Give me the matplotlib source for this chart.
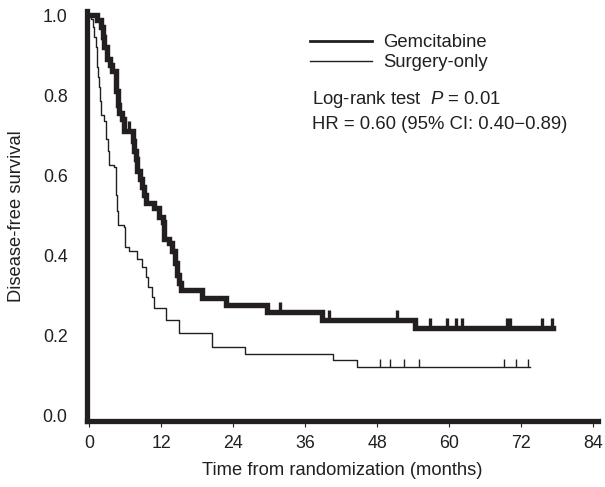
import numpy as np
import matplotlib
matplotlib.use("Agg")
import matplotlib.pyplot as plt

plt.rcParams['font.family'] = ['Liberation Sans', 'DejaVu Sans']
plt.rcParams['mathtext.fontset'] = 'custom'
plt.rcParams['mathtext.rm'] = 'Liberation Sans'
plt.rcParams['mathtext.it'] = 'Liberation Sans:italic'

INK = "#231f20"

# Gemcitabine: step times (months) and survival after each step
gem_t = [0, 1.3, 2.0, 2.2, 2.45, 3.0, 3.4, 3.8, 4.4, 4.5, 4.7, 5.0, 5.4, 5.8,
         7.2, 7.4, 7.7, 8.0, 8.4, 8.8, 9.1, 9.4, 10.8, 11.6, 12.2, 12.4, 12.5,
         13.3, 13.8, 14.3, 14.6, 14.9, 15.3, 18.8, 22.8, 29.6, 38.8, 54.3]
gem_s = [1.0, 0.988, 0.97, 0.945, 0.92, 0.89, 0.875, 0.86, 0.84, 0.81, 0.776, 0.755, 0.74, 0.71,
         0.685, 0.66, 0.64, 0.61, 0.59, 0.57, 0.55, 0.53, 0.517, 0.496, 0.483, 0.46, 0.44,
         0.43, 0.41, 0.38, 0.35, 0.33, 0.3125, 0.293, 0.275, 0.257, 0.2375, 0.217]
gem_end = 77.3
gem_cens = [6.6, 31.8, 39.9, 51.3, 56.8, 59.6, 61.1, 62.1, 69.6, 70.2, 75.4, 77.1]

# Surgery-only
sur_t = [0, 0.3, 0.6, 0.85, 1.05, 1.2, 1.35, 1.5, 1.65, 1.8, 1.95, 2.45, 2.7, 3.1, 3.3,
         4.1, 4.4, 4.5, 4.6, 4.7, 5.8, 6.0, 6.6, 8.0, 8.8, 9.4, 9.7, 10.5, 10.7, 12.7,
         14.9, 20.4, 26.0, 40.7, 44.6]
sur_s = [1.0, 0.99, 0.97, 0.945, 0.92, 0.895, 0.87, 0.845, 0.82, 0.785, 0.75, 0.735, 0.69, 0.66, 0.625,
         0.62, 0.59, 0.55, 0.51, 0.475, 0.47, 0.42, 0.41, 0.39, 0.37, 0.345, 0.32, 0.295, 0.267, 0.2375,
         0.204, 0.169, 0.1525, 0.1375, 0.12]
sur_end = 73.5
sur_cens = [48.5, 50.2, 52.4, 54.9, 69.1, 71.2, 73.2]

xticks = [0, 12, 24, 36, 48, 60, 72, 84]
yticks = [0.0, 0.2, 0.4, 0.6, 0.8, 1.0]


def level_at(times, surv, t):
    i = np.searchsorted(times, t, side='right') - 1
    return np.asarray(surv)[i]


fig = plt.figure(figsize=(6.05, 4.87), dpi=100)
ax = fig.add_axes([0.1438, 0.1355, 0.8446, 0.8419])

ax.step(gem_t + [gem_end], gem_s + [gem_s[-1]], where='post', color=INK, lw=3.9,
        solid_joinstyle='miter', label='Gemcitabine')
ax.step(sur_t + [sur_end], sur_s + [sur_s[-1]], where='post', color=INK, lw=1.0,
        label='Surgery-only')

# censoring ticks
lv = level_at(gem_t, gem_s, gem_cens)
ax.vlines(gem_cens, lv, lv + 0.025, color=INK, lw=2.4)
lv = level_at(sur_t, sur_s, sur_cens)
ax.vlines(sur_cens, lv, lv + 0.02, color=INK, lw=1.0)

ax.set_xlim(-0.4, 84.8)
ax.set_ylim(-0.015, 1.01)
ax.set_xticks(xticks)
ax.set_yticks(yticks)
ax.set_yticklabels([f"{v:.1f}" for v in yticks])

for side in ['top', 'right']:
    ax.spines[side].set_visible(False)
for side in ['left', 'bottom']:
    ax.spines[side].set_linewidth(3.8)
    ax.spines[side].set_color(INK)

ax.tick_params(axis='x', length=4, width=0.8, color=INK, pad=6, labelsize=12.8, labelcolor=INK)
ax.tick_params(axis='y', length=0, pad=14, labelsize=12.8, labelcolor=INK)

ax.set_xlabel("Time from randomization (months)", fontsize=13.2, color=INK, labelpad=7)
ax.set_ylabel("Disease-free survival", fontsize=13.2, color=INK, labelpad=13)

leg = ax.legend(loc='upper left', bbox_to_anchor=(0.436, 0.943), frameon=False,
                fontsize=13.3, handlelength=3.35, handletextpad=0.6, labelspacing=0.15,
                borderpad=0, borderaxespad=0)
for t in leg.get_texts():
    t.set_color(INK)
leg.get_lines()[0].set_linewidth(2.0)

ax.text(0.44, 0.785, r"Log-rank test  $P$ = 0.01", transform=ax.transAxes,
        fontsize=13.3, color=INK, va='center')
ax.text(0.44, 0.724, "HR = 0.60 (95% CI: 0.40\u22120.89)", transform=ax.transAxes,
        fontsize=13.3, color=INK, va='center')

fig.savefig("out.png", dpi=100)
